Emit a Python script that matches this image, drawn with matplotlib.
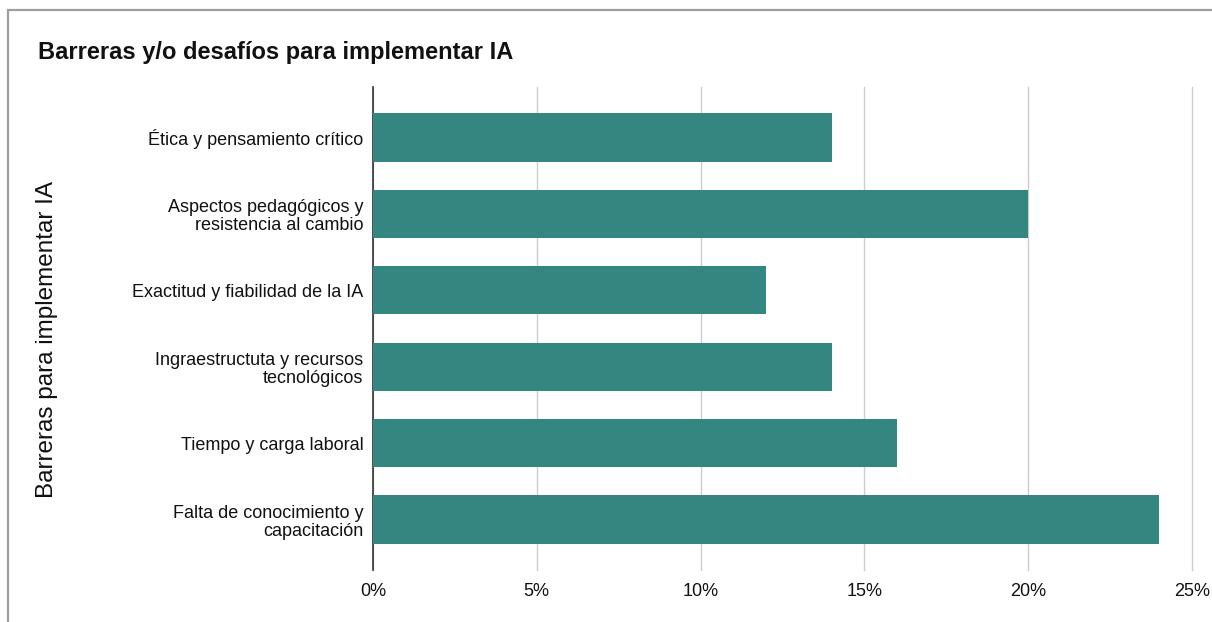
import matplotlib.pyplot as plt
from matplotlib.patches import Rectangle
from matplotlib.ticker import FuncFormatter

plt.rcParams['font.family'] = ['Liberation Sans', 'DejaVu Sans']

categorias = ['Ética y pensamiento crítico',
              'Aspectos pedagógicos y\nresistencia al cambio',
              'Exactitud y fiabilidad de la IA',
              'Ingraestructuta y recursos\ntecnológicos',
              'Tiempo y carga laboral',
              'Falta de conocimiento y\ncapacitación']
valores = [14, 20, 12, 14, 16, 24]

W, H = 1212, 622
fig = plt.figure(figsize=(W / 100, H / 100), dpi=100)

# marco gris recortado
fig.patches.append(Rectangle((8 / W, -0.1), 1.2, 1 - 10 / H + 0.1,
                             transform=fig.transFigure, fill=False,
                             edgecolor='#9e9e9e', linewidth=1.6))

ax = fig.add_axes([373 / W, 1 - 570 / H, (1192 - 373) / W, (570 - 87) / H])
y = list(range(len(categorias)))
ax.barh(y, valores, height=0.63, color='#348781', zorder=3)
ax.set_ylim(len(categorias) - 0.34, -0.66)
ax.set_xlim(0, 25)
ax.set_xticks([0, 5, 10, 15, 20, 25])
ax.xaxis.set_major_formatter(FuncFormatter(lambda v, p: f'{v:.0f}%'))
ax.set_yticks(y)
ax.set_yticklabels(categorias, fontsize=13, color='#111111', linespacing=1.12)
ax.tick_params(axis='x', labelsize=13, colors='#111111', length=0, pad=9)
ax.tick_params(axis='y', length=0, pad=7)
ax.grid(axis='x', color='#cccccc', linewidth=1, zorder=0)
for gl in ax.get_xgridlines():
    gl.set_clip_on(False)
for s in ['top', 'right', 'bottom']:
    ax.spines[s].set_visible(False)
ax.spines['left'].set_color('#333333')
ax.spines['left'].set_linewidth(1.2)

fig.text(38 / W, 1 - 52 / H, 'Barreras y/o desafíos para implementar IA',
         fontsize=17, fontweight='bold', va='center', ha='left', color='#111111')
fig.text(47 / W, 1 - 340 / H, 'Barreras para implementar IA', fontsize=17.5,
         rotation=90, va='center', ha='center', color='#111111')

fig.savefig('out.png', dpi=100)
